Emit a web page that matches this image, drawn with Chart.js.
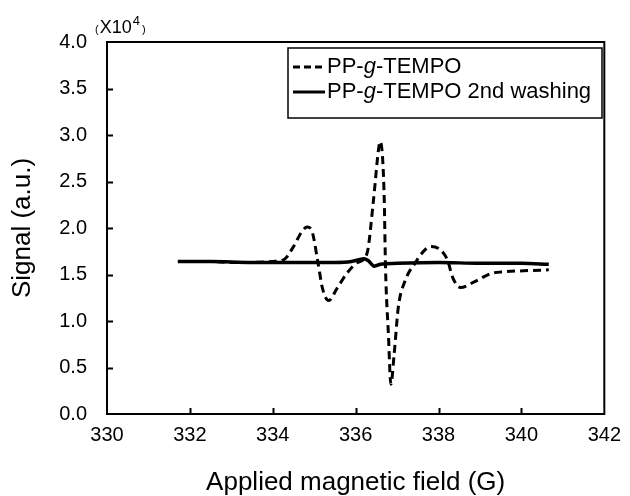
<!DOCTYPE html>
<html lang="en">
<head>
    <meta charset="UTF-8">
    <title>ESR spectrum PP-g-TEMPO</title>
    <script src="https://cdn.jsdelivr.net/npm/chart.js"></script>
    <style>
        body { margin: 0; background: #fff; }
    </style>
</head>
<body>

<canvas id="esrChart" width="630" height="496"></canvas>

<script>
    // Data (field in G, signal in x10^4)
    const fieldTempo = [331.71, 332.5, 333.0, 333.5, 334.0, 334.27, 334.5, 334.7, 334.83, 334.95,
        335.09, 335.2, 335.35, 335.55, 335.8, 336.05, 336.27, 336.43, 336.55, 336.59,
        336.65, 336.69, 336.72, 336.79, 336.85, 336.93, 337.03, 337.19, 337.43, 337.66,
        337.82, 338.06, 338.22, 338.34, 338.53, 338.86, 339.26, 339.58, 340.06, 340.66];
    const signalTempo = [1.64, 1.64, 1.63, 1.63, 1.64, 1.66, 1.80, 1.96, 2.01, 1.96,
        1.63, 1.35, 1.22, 1.35, 1.52, 1.63, 1.72, 2.30, 2.84, 2.93,
        2.75, 2.30, 1.58, 0.86, 0.32, 0.65, 1.15, 1.43, 1.62, 1.76,
        1.80, 1.76, 1.65, 1.47, 1.36, 1.42, 1.51, 1.53, 1.54, 1.55];

    const fieldWashed = [331.71, 332.5, 333.5, 334.5, 335.5, 335.9, 336.2, 336.3, 336.45, 336.6,
        337.0, 338.0, 339.0, 340.0, 340.66];
    const signalWashed = [1.64, 1.64, 1.63, 1.63, 1.63, 1.64, 1.67, 1.65, 1.59, 1.61,
        1.62, 1.63, 1.62, 1.62, 1.61];

    const seriesNames = ['PP-g-TEMPO', 'PP-g-TEMPO 2nd washing'];
    const xTicks = [330, 332, 334, 336, 338, 340, 342];
    const yTicks = [0, 0.5, 1.0, 1.5, 2.0, 2.5, 3.0, 3.5, 4.0];

    const FONT = "'Liberation Sans', Arial, sans-serif";

    function toPoints(xs, ys) {
        return xs.map((x, i) => ({ x: x, y: ys[i] }));
    }

    // frame, inward ticks, exponent label and legend
    const decorations = {
        id: 'decorations',
        afterDraw(chart) {
            const ctx = chart.ctx;
            const area = chart.chartArea;
            const xs = chart.scales.x;
            const ys = chart.scales.y;
            ctx.save();
            ctx.strokeStyle = '#000';
            ctx.lineWidth = 2;
            ctx.strokeRect(area.left, area.top, area.right - area.left, area.bottom - area.top);

            ctx.beginPath();
            xTicks.slice(1, -1).forEach(v => {
                const px = Math.round(xs.getPixelForValue(v)) + 0.5;
                ctx.moveTo(px, area.bottom);
                ctx.lineTo(px, area.bottom - 6);
            });
            yTicks.slice(1, -1).forEach(v => {
                const py = Math.round(ys.getPixelForValue(v)) + 0.5;
                ctx.moveTo(area.left, py);
                ctx.lineTo(area.left + 6, py);
            });
            ctx.stroke();

            // (X10^4) above the y axis
            ctx.fillStyle = '#000';
            ctx.textBaseline = 'alphabetic';
            ctx.textAlign = 'left';
            let ex = 95;
            ctx.font = '11px ' + FONT;
            ctx.fillText('(', ex, 33);
            ex += ctx.measureText('(').width + 1;
            ctx.font = '18px ' + FONT;
            ctx.fillText('X10', ex, 33);
            ex += ctx.measureText('X10').width + 1;
            ctx.font = '13px ' + FONT;
            ctx.fillText('4', ex, 25);
            ex += ctx.measureText('4').width + 2;
            ctx.font = '11px ' + FONT;
            ctx.fillText(')', ex, 33);

            // legend
            const box = { left: 288, top: 48, right: 602, bottom: 118 };
            ctx.lineWidth = 1.5;
            ctx.strokeRect(box.left, box.top, box.right - box.left, box.bottom - box.top);
            const rows = [67, 92];
            rows.forEach((ry, i) => {
                ctx.beginPath();
                ctx.lineWidth = 3;
                ctx.setLineDash(i === 0 ? [7, 4] : []);
                ctx.moveTo(293, ry);
                ctx.lineTo(325, ry);
                ctx.stroke();
                ctx.setLineDash([]);

                ctx.textBaseline = 'middle';
                let x = 327;
                const parts = [['PP-', false], ['g', true], [seriesNames[i].slice(4), false]];
                parts.forEach(([t, it]) => {
                    ctx.font = (it ? 'italic ' : '') + '22px ' + FONT;
                    ctx.fillText(t, x, ry);
                    x += ctx.measureText(t).width;
                });
            });
            ctx.restore();
        }
    };

    const ctx = document.getElementById('esrChart').getContext('2d');
    const esrChart = new Chart(ctx, {
        type: 'line',
        data: {
            datasets: [{
                label: seriesNames[0],
                data: toPoints(fieldTempo, signalTempo),
                borderColor: '#000',
                borderWidth: 3,
                borderDash: [8, 5],
                pointRadius: 0,
                cubicInterpolationMode: 'monotone',
                fill: false
            }, {
                label: seriesNames[1],
                data: toPoints(fieldWashed, signalWashed),
                borderColor: '#000',
                borderWidth: 3.5,
                pointRadius: 0,
                cubicInterpolationMode: 'monotone',
                fill: false
            }]
        },
        options: {
            responsive: false,
            animation: false,
            layout: { padding: { top: 42, right: 22, left: 0, bottom: 0 } },
            plugins: {
                legend: { display: false },
                tooltip: { enabled: false }
            },
            scales: {
                x: {
                    type: 'linear',
                    min: 330,
                    max: 342,
                    afterFit: s => { s.height = 82; },
                    afterBuildTicks: s => { s.ticks = xTicks.map(v => ({ value: v })); },
                    grid: { display: false, drawTicks: false },
                    border: { display: false },
                    ticks: {
                        padding: 9,
                        color: '#000',
                        font: { family: FONT, size: 20 },
                        callback: v => String(v)
                    },
                    title: {
                        display: true,
                        text: 'Applied magnetic field (G)',
                        color: '#000',
                        font: { family: FONT, size: 26, lineHeight: 1 },
                        padding: { top: 0, bottom: 0 }
                    }
                },
                y: {
                    min: 0,
                    max: 4,
                    afterFit: s => { s.width = 107; },
                    afterBuildTicks: s => { s.ticks = yTicks.map(v => ({ value: v })); },
                    grid: { display: false, drawTicks: false },
                    border: { display: false },
                    ticks: {
                        padding: 20,
                        color: '#000',
                        font: { family: FONT, size: 20 },
                        callback: v => v.toFixed(1)
                    },
                    title: {
                        display: true,
                        text: 'Signal (a.u.)',
                        color: '#000',
                        font: { family: FONT, size: 26, lineHeight: 1 },
                        padding: { top: 10, bottom: 10 }
                    }
                }
            }
        },
        plugins: [decorations]
    });
</script>

</body>
</html>
